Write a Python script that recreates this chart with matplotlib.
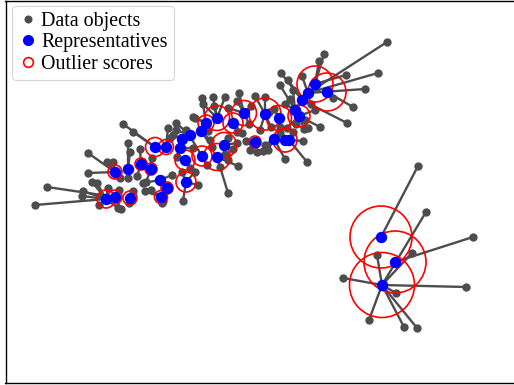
import matplotlib.pyplot as plt
from matplotlib.lines import Line2D
from matplotlib.patches import Circle

# --- representatives (x, y in image-like units, y grows downward) and outlier score radius ---
rep_x = [315, 327, 308, 302, 295, 299, 279, 265, 244, 233,
         217, 206, 201, 190, 182, 180, 255, 274, 285, 289,
         224, 217, 202, 185, 186, 155, 166, 115, 128, 141,
         151, 160, 167, 161, 106, 115, 130, 381, 395, 382]
rep_y = [84, 92, 93, 100, 110, 116, 118, 114, 113, 123,
         118, 123, 131, 135, 139, 148, 142, 139, 140, 140,
         145, 157, 156, 160, 182, 147, 147, 172, 169, 164,
         169, 180, 188, 197, 199, 197, 198, 237, 262, 285]
rep_score = [18, 19, 4, 4, 4, 11, 12.5, 16, 12.5, 10,
             12.5, 8, 4, 4, 4, 4, 6, 4, 12, 4,
             12.5, 13.5, 10, 10, 10, 9.5, 7.5, 7, 4, 6,
             6, 4, 6, 6.5, 9, 7, 7, 31, 31, 32.5]

# --- data objects and the representative each one belongs to ---
obj_x = [35, 47, 83, 82, 88, 88, 123, 133, 128, 130,
         107, 113, 120, 128, 137, 97, 108, 119, 118, 121,
         133, 143, 145, 151, 146, 172, 182, 195, 183, 198,
         163, 162, 129, 170, 173, 176, 195, 203, 202, 213,
         214, 193, 225, 239, 237, 251, 228, 255, 265, 269,
         274, 280, 288, 285, 290, 237, 242, 249, 271, 280,
         287, 305, 308, 210, 228, 237, 233, 225, 228, 250,
         257, 263, 268, 265, 280, 293, 303, 307, 285, 220,
         238, 207, 228, 177, 193, 387, 378, 365, 353, 347,
         324, 319, 281, 346, 302, 293, 315, 320, 304, 333,
         426, 473, 466, 343, 369, 404, 417, 377, 412, 396,
         418, 99, 92, 140, 186, 212, 176, 168, 246, 260,
         152, 190, 208, 296, 311]
obj_y = [205, 187, 191, 196, 153, 173, 124, 132, 143, 152,
         162, 162, 178, 178, 176, 183, 188, 190, 208, 209,
         191, 183, 191, 190, 182, 175, 172, 172, 201, 185,
         201, 203, 203, 138, 135, 130, 118, 104, 98, 97,
         106, 117, 97, 93, 101, 106, 108, 96, 97, 112,
         109, 85, 80, 104, 99, 132, 133, 124, 127, 127,
         128, 120, 128, 140, 138, 143, 149, 154, 160, 150,
         152, 151, 150, 145, 133, 132, 141, 162, 159, 167,
         166, 165, 193, 157, 148, 42, 73, 89, 107, 123,
         54, 61, 73, 75, 76, 90, 110, 127, 129, 98,
         212, 237, 287, 278, 320, 327, 328, 255, 253, 293,
         166, 205, 182, 149, 130, 147, 123, 128, 141, 130,
         158, 168, 131, 124, 104]
obj_rep = [34, 35, 34, 34, 27, 27, 25, 25, 28, 28,
           27, 27, 27, 28, 29, 34, 34, 35, 34, 35,
           36, 31, 33, 33, 30, 31, 24, 24, 24, 24,
           33, 33, 36, 26, 14, 13, 11, 10, 11, 10,
           10, 11, 10, 8, 8, 8, 8, 7, 7, 7,
           6, 4, 3, 4, 4, 9, 9, 8, 7, 6,
           5, 5, 5, 12, 20, 20, 20, 21, 21, 16,
           16, 17, 17, 17, 17, 19, 19, 19, 17, 21,
           21, 22, 21, 23, 15, 2, 2, 2, 1, 3,
           0, 0, 3, 0, 2, 4, 5, 5, 5, 1,
           39, 38, 39, 39, 39, 39, 39, 39, 39, 39,
           37, 34, 34, 29, 22, 12, 13, 26, 16, 7,
           30, 23, 12, 5, 3]

gray = '#4d4d4d'
plt.rcParams['font.family'] = ['Liberation Serif', 'DejaVu Serif']

fig = plt.figure(figsize=(5.14, 3.85), dpi=100)
ax = fig.add_axes([5.5 / 514, 1.7 / 385, 1.05, 382.8 / 385])
ax.set_xlim(5.5, 5.5 + 1.05 * 514)
ax.set_ylim(383.3, 0.5)

# links object -> representative
for x, y, r in zip(obj_x, obj_y, obj_rep):
    ax.plot([x, rep_x[r]], [y, rep_y[r]], color=gray, lw=1.7, zorder=1)
ax.plot(obj_x, obj_y, 'o', color=gray, ms=6, mew=0, zorder=2)

for x, y, s in zip(rep_x, rep_y, rep_score):
    ax.add_patch(Circle((x, y), s, fill=False, edgecolor='red', lw=1.2, zorder=3))
ax.plot(rep_x, rep_y, 'o', color='blue', ms=8.2, mew=0, zorder=4)

ax.set_xticks([])
ax.set_yticks([])
for sp in ax.spines.values():
    sp.set_linewidth(1.0)
    sp.set_color('black')

handles = [
    Line2D([], [], marker='o', ls='', color=gray, ms=5.8, mew=0, label='Data objects'),
    Line2D([], [], marker='o', ls='', color='blue', ms=8, mew=0, label='Representatives'),
    Line2D([], [], marker='o', ls='', mfc='none', mec='red', ms=7, mew=1.2, label='Outlier scores'),
]
leg = ax.legend(handles=handles, loc='upper left',
                prop={'family': ['Liberation Serif', 'DejaVu Serif'], 'size': 14.4},
                handlelength=1.0, handletextpad=0.15, borderpad=0.3, labelspacing=0.12,
                borderaxespad=0.0, frameon=True, fancybox=True)
leg.get_frame().set_edgecolor('#cccccc')
leg.get_frame().set_linewidth(0.8)
leg.set_bbox_to_anchor((12 / 514, 1 - 6 / 385), transform=fig.transFigure)

fig.savefig('out.png', dpi=100)
